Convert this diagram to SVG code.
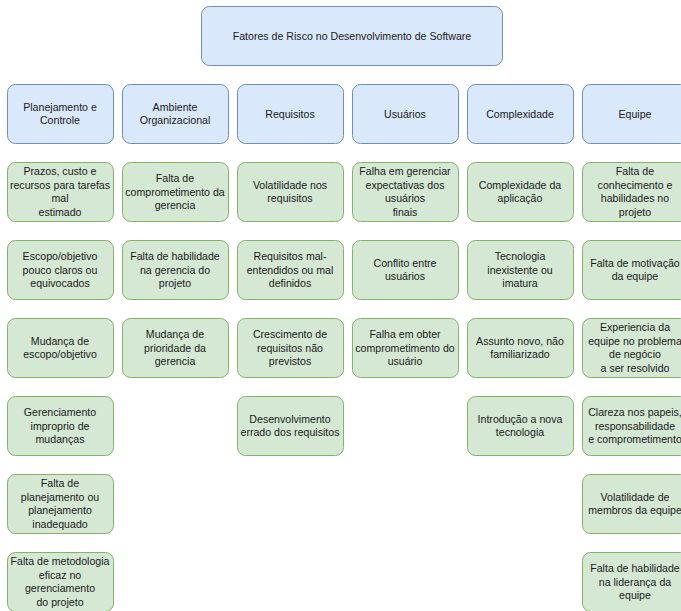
<svg xmlns="http://www.w3.org/2000/svg" width="681" height="611" viewBox="0 0 681 611">
<style>
.b{fill:#dae8fc;stroke:#6c8ebf;stroke-width:1}
.g{fill:#d5e8d4;stroke:#82b366;stroke-width:1}
text{font-family:"Liberation Sans",Arial,sans-serif;font-size:10.6px;text-anchor:middle;fill:#1a1a1a}
</style>
<rect width="681" height="611" fill="#ffffff"/>
<g id="connectors"/>
<g id="root"><rect class="b" x="201.5" y="6.5" width="301" height="59" rx="8"/><text x="352" y="39.5">Fatores de Risco no Desenvolvimento de Software</text></g>

<g id="cat-planejamento"><rect class="b" x="7.5" y="84.5" width="106" height="59" rx="8"/><text x="60" y="110.6">Planejamento e<tspan x="60" dy="13.8">Controle</tspan></text></g>
<g id="cat-ambiente"><rect class="b" x="122.5" y="84.5" width="106" height="59" rx="8"/><text x="175" y="110.6">Ambiente<tspan x="175" dy="13.8">Organizacional</tspan></text></g>
<g id="cat-requisitos"><rect class="b" x="237.5" y="84.5" width="106" height="59" rx="8"/><text x="290" y="117.5">Requisitos</text></g>
<g id="cat-usuarios"><rect class="b" x="352.5" y="84.5" width="106" height="59" rx="8"/><text x="405" y="117.5">Usuários</text></g>
<g id="cat-complexidade"><rect class="b" x="467.5" y="84.5" width="106" height="59" rx="8"/><text x="520" y="117.5">Complexidade</text></g>
<g id="cat-equipe"><rect class="b" x="582.5" y="84.5" width="106" height="59" rx="8"/><text x="635" y="117.5">Equipe</text></g>

<g id="p1"><rect class="g" x="7.5" y="162.5" width="106" height="59" rx="8"/><text x="60" y="174.8">Prazos, custo e<tspan x="60" dy="13.8">recursos para tarefas</tspan><tspan x="60" dy="13.8">mal</tspan><tspan x="60" dy="13.8">estimado</tspan></text></g>
<g id="p2"><rect class="g" x="7.5" y="240.5" width="106" height="59" rx="8"/><text x="60" y="259.7">Escopo/objetivo<tspan x="60" dy="13.8">pouco claros ou</tspan><tspan x="60" dy="13.8">equivocados</tspan></text></g>
<g id="p3"><rect class="g" x="7.5" y="318.5" width="106" height="59" rx="8"/><text x="60" y="344.6">Mudança de<tspan x="60" dy="13.8">escopo/objetivo</tspan></text></g>
<g id="p4"><rect class="g" x="7.5" y="396.5" width="106" height="59" rx="8"/><text x="60" y="415.7">Gerenciamento<tspan x="60" dy="13.8">improprio de</tspan><tspan x="60" dy="13.8">mudanças</tspan></text></g>
<g id="p5"><rect class="g" x="7.5" y="474.5" width="106" height="59" rx="8"/><text x="60" y="486.8">Falta de<tspan x="60" dy="13.8">planejamento ou</tspan><tspan x="60" dy="13.8">planejamento</tspan><tspan x="60" dy="13.8">inadequado</tspan></text></g>
<g id="p6"><rect class="g" x="7.5" y="552.5" width="106" height="59" rx="8"/><text x="60" y="564.8">Falta de metodologia<tspan x="60" dy="13.8">eficaz no</tspan><tspan x="60" dy="13.8">gerenciamento</tspan><tspan x="60" dy="13.8">do projeto</tspan></text></g>

<g id="a1"><rect class="g" x="122.5" y="162.5" width="106" height="59" rx="8"/><text x="175" y="181.7">Falta de<tspan x="175" dy="13.8">comprometimento da</tspan><tspan x="175" dy="13.8">gerencia</tspan></text></g>
<g id="a2"><rect class="g" x="122.5" y="240.5" width="106" height="59" rx="8"/><text x="175" y="259.7">Falta de habilidade<tspan x="175" dy="13.8">na gerencia do</tspan><tspan x="175" dy="13.8">projeto</tspan></text></g>
<g id="a3"><rect class="g" x="122.5" y="318.5" width="106" height="59" rx="8"/><text x="175" y="337.7">Mudança de<tspan x="175" dy="13.8">prioridade da</tspan><tspan x="175" dy="13.8">gerencia</tspan></text></g>

<g id="r1"><rect class="g" x="237.5" y="162.5" width="106" height="59" rx="8"/><text x="290" y="188.6">Volatilidade nos<tspan x="290" dy="13.8">requisitos</tspan></text></g>
<g id="r2"><rect class="g" x="237.5" y="240.5" width="106" height="59" rx="8"/><text x="290" y="259.7">Requisitos mal-<tspan x="290" dy="13.8">entendidos ou mal</tspan><tspan x="290" dy="13.8">definidos</tspan></text></g>
<g id="r3"><rect class="g" x="237.5" y="318.5" width="106" height="59" rx="8"/><text x="290" y="337.7">Crescimento de<tspan x="290" dy="13.8">requisitos não</tspan><tspan x="290" dy="13.8">previstos</tspan></text></g>
<g id="r4"><rect class="g" x="237.5" y="396.5" width="106" height="59" rx="8"/><text x="290" y="422.6">Desenvolvimento<tspan x="290" dy="13.8">errado dos requisitos</tspan></text></g>

<g id="u1"><rect class="g" x="352.5" y="162.5" width="106" height="59" rx="8"/><text x="405" y="174.8">Falha em gerenciar<tspan x="405" dy="13.8">expectativas dos</tspan><tspan x="405" dy="13.8">usuários</tspan><tspan x="405" dy="13.8">finais</tspan></text></g>
<g id="u2"><rect class="g" x="352.5" y="240.5" width="106" height="59" rx="8"/><text x="405" y="266.6">Conflito entre<tspan x="405" dy="13.8">usuários</tspan></text></g>
<g id="u3"><rect class="g" x="352.5" y="318.5" width="106" height="59" rx="8"/><text x="405" y="337.7">Falha em obter<tspan x="405" dy="13.8">comprometimento do</tspan><tspan x="405" dy="13.8">usuário</tspan></text></g>

<g id="c1"><rect class="g" x="467.5" y="162.5" width="106" height="59" rx="8"/><text x="520" y="188.6">Complexidade da<tspan x="520" dy="13.8">aplicação</tspan></text></g>
<g id="c2"><rect class="g" x="467.5" y="240.5" width="106" height="59" rx="8"/><text x="520" y="259.7">Tecnologia<tspan x="520" dy="13.8">inexistente ou</tspan><tspan x="520" dy="13.8">imatura</tspan></text></g>
<g id="c3"><rect class="g" x="467.5" y="318.5" width="106" height="59" rx="8"/><text x="520" y="344.6">Assunto novo, não<tspan x="520" dy="13.8">familiarizado</tspan></text></g>
<g id="c4"><rect class="g" x="467.5" y="396.5" width="106" height="59" rx="8"/><text x="520" y="422.6">Introdução a nova<tspan x="520" dy="13.8">tecnologia</tspan></text></g>

<g id="e1"><rect class="g" x="582.5" y="162.5" width="106" height="59" rx="8"/><text x="635" y="174.8">Falta de<tspan x="635" dy="13.8">conhecimento e</tspan><tspan x="635" dy="13.8">habilidades no</tspan><tspan x="635" dy="13.8">projeto</tspan></text></g>
<g id="e2"><rect class="g" x="582.5" y="240.5" width="106" height="59" rx="8"/><text x="635" y="266.6">Falta de motivação<tspan x="635" dy="13.8">da equipe</tspan></text></g>
<g id="e3"><rect class="g" x="582.5" y="318.5" width="106" height="59" rx="8"/><text x="635" y="330.8">Experiencia da<tspan x="635" dy="13.8">equipe no problema</tspan><tspan x="635" dy="13.8">de negócio</tspan><tspan x="635" dy="13.8">a ser resolvido</tspan></text></g>
<g id="e4"><rect class="g" x="582.5" y="396.5" width="106" height="59" rx="8"/><text x="635" y="415.7">Clareza nos papeis,<tspan x="635" dy="13.8">responsabilidade</tspan><tspan x="635" dy="13.8">e comprometimento</tspan></text></g>
<g id="e5"><rect class="g" x="582.5" y="474.5" width="106" height="59" rx="8"/><text x="635" y="500.6">Volatilidade de<tspan x="635" dy="13.8">membros da equipe</tspan></text></g>
<g id="e6"><rect class="g" x="582.5" y="552.5" width="106" height="59" rx="8"/><text x="635" y="571.7">Falta de habilidade<tspan x="635" dy="13.8">na liderança da</tspan><tspan x="635" dy="13.8">equipe</tspan></text></g>
</svg>
